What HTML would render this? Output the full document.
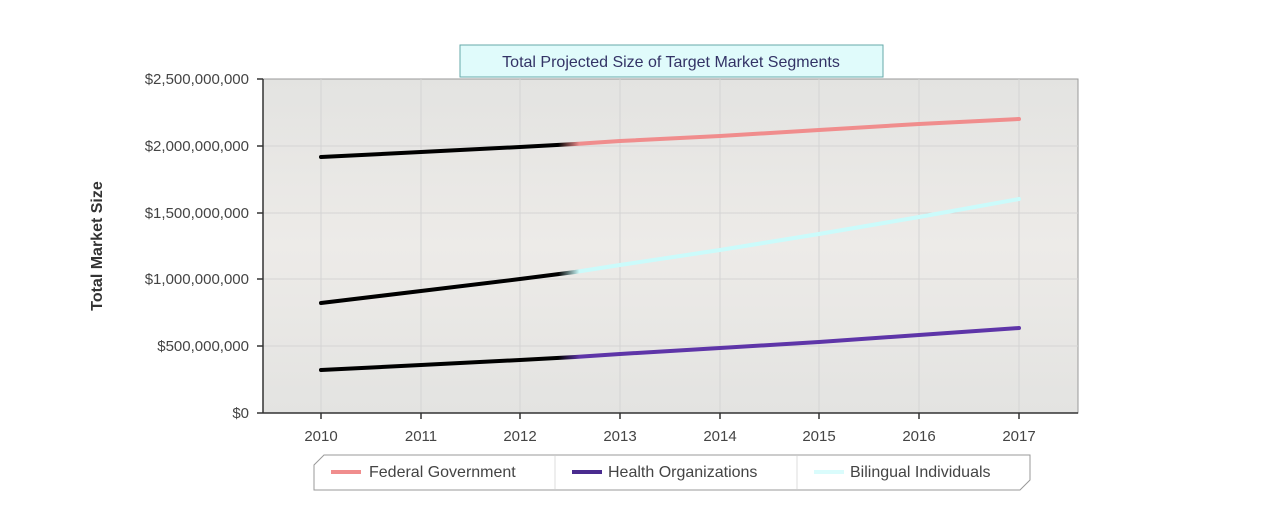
<!DOCTYPE html>
<html><head><style>body{margin:0;background:#fff}</style></head><body>
<svg width="1274" height="519" xmlns="http://www.w3.org/2000/svg" font-family="Liberation Sans, sans-serif">
<defs>
<linearGradient id="bg" x1="0" y1="0" x2="0" y2="1"><stop offset="0" stop-color="#e3e3e1"/><stop offset="0.5" stop-color="#edebe8"/><stop offset="1" stop-color="#e3e3e1"/></linearGradient>
<linearGradient id="gf" gradientUnits="userSpaceOnUse" x1="321" y1="0" x2="1019" y2="0"><stop offset="0.34" stop-color="#000"/><stop offset="0.37" stop-color="#f08d8d"/></linearGradient>
<linearGradient id="gb" gradientUnits="userSpaceOnUse" x1="321" y1="0" x2="1019" y2="0"><stop offset="0.34" stop-color="#000"/><stop offset="0.37" stop-color="#cbfbfb"/></linearGradient>
<linearGradient id="gh" gradientUnits="userSpaceOnUse" x1="321" y1="0" x2="1019" y2="0"><stop offset="0.34" stop-color="#000"/><stop offset="0.37" stop-color="#5e35a8"/></linearGradient>
</defs>
<rect x="263" y="79" width="815" height="334" fill="url(#bg)" stroke="#999"/>
<g stroke="#d4d4d4" stroke-width="1">
<line x1="321" y1="79" x2="321" y2="413"/><line x1="421" y1="79" x2="421" y2="413"/><line x1="520" y1="79" x2="520" y2="413"/><line x1="620" y1="79" x2="620" y2="413"/><line x1="720" y1="79" x2="720" y2="413"/><line x1="819" y1="79" x2="819" y2="413"/><line x1="919" y1="79" x2="919" y2="413"/><line x1="1019" y1="79" x2="1019" y2="413"/>
<line x1="263" y1="146" x2="1078" y2="146"/><line x1="263" y1="213" x2="1078" y2="213"/><line x1="263" y1="279" x2="1078" y2="279"/><line x1="263" y1="346" x2="1078" y2="346"/>
</g>
<g stroke="#333" stroke-width="1.5">
<line x1="263" y1="79" x2="263" y2="413"/><line x1="263" y1="413" x2="1078" y2="413"/>
<line x1="257" y1="79" x2="263" y2="79"/><line x1="257" y1="146" x2="263" y2="146"/><line x1="257" y1="213" x2="263" y2="213"/><line x1="257" y1="279" x2="263" y2="279"/><line x1="257" y1="346" x2="263" y2="346"/><line x1="257" y1="413" x2="263" y2="413"/>
<line x1="321" y1="413" x2="321" y2="419"/><line x1="421" y1="413" x2="421" y2="419"/><line x1="520" y1="413" x2="520" y2="419"/><line x1="620" y1="413" x2="620" y2="419"/><line x1="720" y1="413" x2="720" y2="419"/><line x1="819" y1="413" x2="819" y2="419"/><line x1="919" y1="413" x2="919" y2="419"/><line x1="1019" y1="413" x2="1019" y2="419"/>
</g>
<g font-size="15" fill="#444" text-anchor="end">
<text x="249" y="84">$2,500,000,000</text><text x="249" y="151">$2,000,000,000</text><text x="249" y="218">$1,500,000,000</text><text x="249" y="284">$1,000,000,000</text><text x="249" y="351">$500,000,000</text><text x="249" y="418">$0</text>
</g>
<g font-size="15" fill="#444" text-anchor="middle">
<text x="321" y="441">2010</text><text x="421" y="441">2011</text><text x="520" y="441">2012</text><text x="620" y="441">2013</text><text x="720" y="441">2014</text><text x="819" y="441">2015</text><text x="919" y="441">2016</text><text x="1019" y="441">2017</text>
</g>
<text transform="translate(102,246) rotate(-90)" font-size="16" font-weight="bold" fill="#333" text-anchor="middle">Total Market Size</text>
<g fill="none" stroke-width="4" stroke-linecap="round" stroke-linejoin="round">
<polyline stroke="url(#gf)" points="321,157 421,152 520,147 575,144 620,141 720,136 819,130 919,124 1019,119"/>
<polyline stroke="url(#gb)" points="321,303 421,291 520,279 575,272 620,265 720,250 819,234 919,217 1019,199"/>
<polyline stroke="url(#gh)" points="321,370 421,365 520,360 575,357 620,354 720,348 819,342 919,335 1019,328"/>
</g>
<rect x="460" y="45" width="423" height="32" fill="#e0fbfb" stroke="#6aa"/>
<text x="671" y="67" font-size="16" fill="#336" text-anchor="middle">Total Projected Size of Target Market Segments</text>
<path d="M324,455 L1030,455 L1030,480 L1020,490 L314,490 L314,465 Z" fill="#fff" stroke="#999"/>
<line x1="555" y1="456" x2="555" y2="489" stroke="#ddd"/><line x1="797" y1="456" x2="797" y2="489" stroke="#ddd"/>
<g stroke-width="4"><line x1="331" y1="472" x2="361" y2="472" stroke="#f08d8d"/><line x1="572" y1="472" x2="602" y2="472" stroke="#4a2b8f"/><line x1="814" y1="472" x2="844" y2="472" stroke="#dafcfc"/></g>
<g font-size="16" fill="#444"><text x="369" y="477">Federal Government</text><text x="608" y="477">Health Organizations</text><text x="850" y="477">Bilingual Individuals</text></g>
</svg>
</body></html>
